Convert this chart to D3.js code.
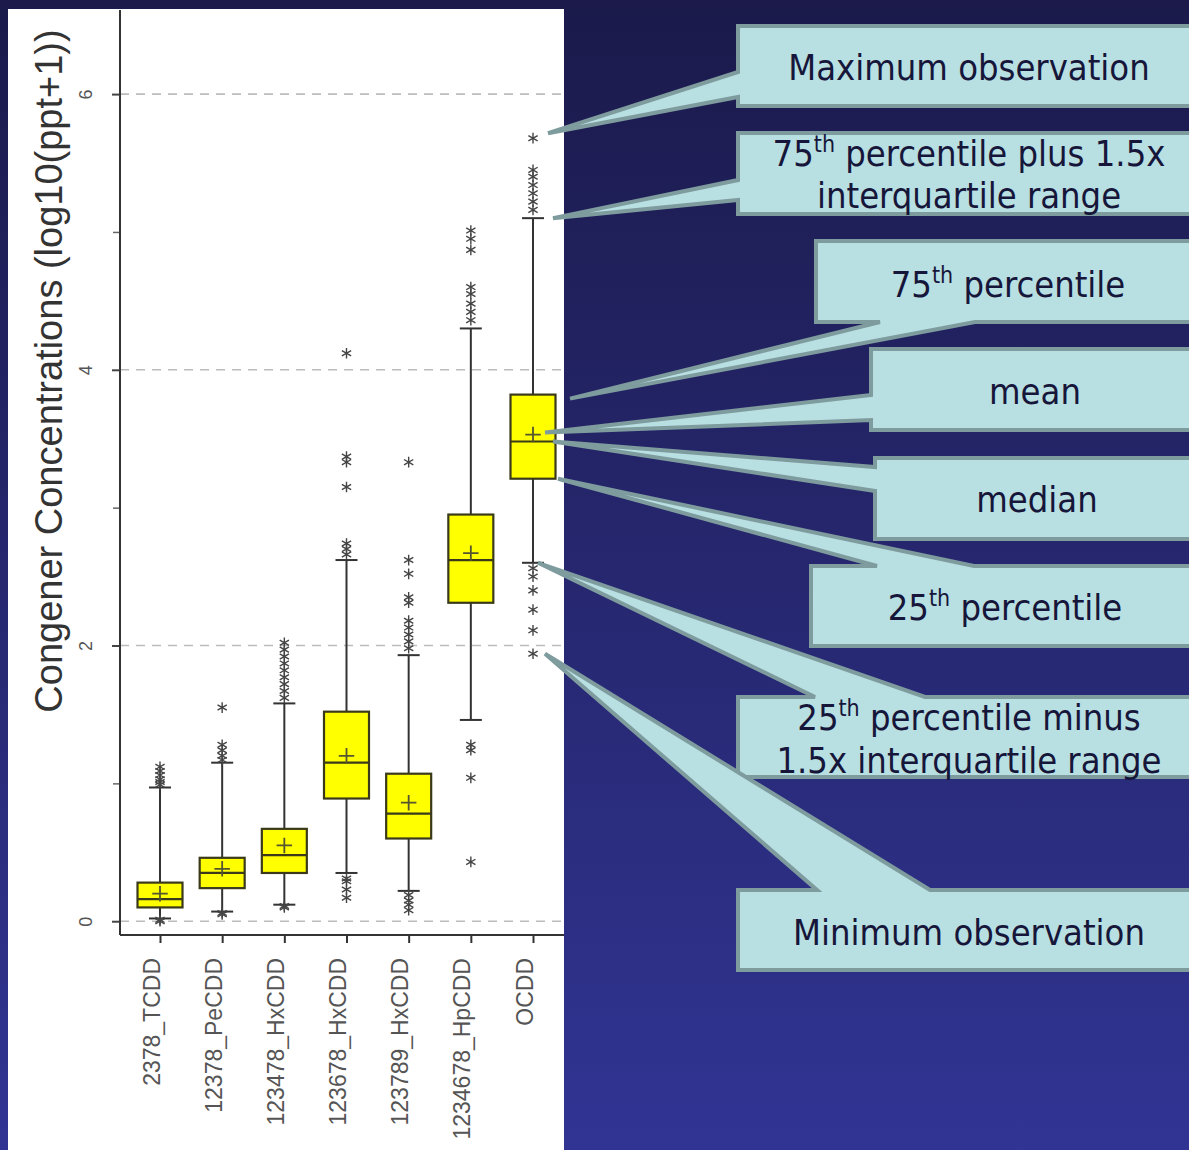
<!DOCTYPE html>
<html><head><meta charset="utf-8">
<script src="https://cdn.jsdelivr.net/npm/d3@7"></script>
<style>body{margin:0;background:#1c1b4f;overflow:hidden} svg{display:block}</style>
</head><body><svg id="c" width="1189" height="1150"></svg>
<script>
// ---------- data ----------
const categories = ["2378_TCDD","12378_PeCDD","123478_HxCDD","123678_HxCDD","123789_HxCDD","1234678_HpCDD","OCDD"];
const q1          = [0.10, 0.24, 0.35, 0.89, 0.60, 2.31, 3.21];
const median      = [0.16, 0.35, 0.48, 1.15, 0.78, 2.62, 3.48];
const q3          = [0.28, 0.46, 0.67, 1.52, 1.07, 2.95, 3.82];
const means       = [0.20, 0.38, 0.55, 1.20, 0.86, 2.67, 3.53];
const whiskerLow  = [0.02, 0.07, 0.12, 0.35, 0.22, 1.46, 2.60];
const whiskerHigh = [0.97, 1.15, 1.58, 2.62, 1.93, 4.30, 5.10];
const outliers = [
  [0.00, 0.01, 0.99, 1.01, 1.03, 1.06, 1.09, 1.12],
  [0.05, 0.06, 1.17, 1.20, 1.24, 1.28, 1.55],
  [0.10, 0.11, 1.62, 1.67, 1.72, 1.77, 1.82, 1.87, 1.92, 1.97, 2.02],
  [0.17, 0.23, 0.29, 0.31, 2.66, 2.70, 2.74, 3.15, 3.33, 3.37, 4.12],
  [0.08, 0.12, 0.15, 0.19, 1.98, 2.03, 2.08, 2.13, 2.18, 2.31, 2.35, 2.52, 2.62, 3.33],
  [0.43, 1.04, 1.24, 1.28, 4.36, 4.42, 4.48, 4.55, 4.60, 4.87, 4.95, 5.01],
  [1.94, 2.11, 2.26, 2.40, 2.50, 2.56, 5.16, 5.22, 5.28, 5.34, 5.40, 5.45, 5.68]
];
const yTicks = [0, 2, 4, 6];
const yMinorTicks = [1, 3, 5];
const yTitle = "Congener Concentrations (log10(ppt+1))";

// ---------- layout ----------
const svg = d3.select("#c");
const W = 1189, H = 1150;
const defs = svg.append("defs");
const grad = defs.append("linearGradient").attr("id","bg").attr("x1",0).attr("y1",0).attr("x2",0).attr("y2",1);
grad.append("stop").attr("offset","0%").attr("stop-color","#1b1a4b");
grad.append("stop").attr("offset","100%").attr("stop-color","#313493");
svg.append("rect").attr("width",W).attr("height",H).attr("fill","url(#bg)");

// white panel
svg.append("rect").attr("x",8).attr("y",9).attr("width",556).attr("height",H-9).attr("fill","#ffffff");

const y = d3.scaleLinear().domain([-0.1, 6.61]).range([935, 10]);
const x = d3.scalePoint().domain(categories).range([160, 533]);
const plotL = 120, plotR = 564, plotB = 935, plotT = 10;

// gridlines
svg.append("g").selectAll("line").data(yTicks).join("line")
  .attr("x1", plotL).attr("x2", plotR - 2)
  .attr("y1", d => y(d)).attr("y2", d => y(d))
  .attr("stroke", "#bcbcbc").attr("stroke-width", 1.6).attr("stroke-dasharray", "9,7");

// y axis
const yAxis = d3.axisLeft(y).tickValues(yTicks).tickSize(8).tickFormat(d3.format("d"));
const gy = svg.append("g").attr("transform", `translate(${plotL},0)`).call(yAxis);
gy.select(".domain").remove();
gy.selectAll(".tick line").attr("stroke","#444").attr("stroke-width",2);
gy.selectAll(".tick text").attr("fill","#555").attr("font-size",18)
  .attr("font-family","Liberation Sans, Arial, sans-serif")
  .attr("text-anchor","middle").attr("x",0).attr("y",0).attr("dy","0.35em")
  .attr("transform","translate(-34,0) rotate(-90)");
svg.append("g").attr("transform", `translate(${plotL},0)`)
  .call(d3.axisLeft(y).tickValues(yMinorTicks).tickSize(7).tickFormat(""))
  .call(g => g.select(".domain").remove())
  .selectAll(".tick line").attr("stroke","#666").attr("stroke-width",1.5);

svg.append("line").attr("x1",plotL).attr("x2",plotL).attr("y1",plotT).attr("y2",plotB)
  .attr("stroke","#333").attr("stroke-width",2);

// x axis
const xAxis = d3.axisBottom(x).tickSize(8).tickFormat(d => d);
const gx = svg.append("g").attr("transform", `translate(0,${plotB})`).call(xAxis);
gx.select(".domain").remove();
gx.selectAll(".tick line").attr("stroke","#333").attr("stroke-width",2);
gx.selectAll(".tick text").attr("fill","#555").attr("font-size",23)
  .attr("font-family","Liberation Sans, Arial, sans-serif")
  .attr("text-anchor","end").attr("y",0).attr("x",0).attr("dy",0)
  .attr("transform","translate(-1,23) rotate(-90)");
svg.append("line").attr("x1",plotL).attr("x2",plotR).attr("y1",plotB).attr("y2",plotB)
  .attr("stroke","#333").attr("stroke-width",2);

// y title
svg.append("text").attr("transform","translate(62,371) rotate(-90)")
  .attr("text-anchor","middle").attr("font-size",38).attr("fill","#333")
  .attr("font-family","Liberation Sans, Arial, sans-serif").text(yTitle);

// boxes
const boxW = 45, capW = 22;
const data = categories.map((c,i) => ({c, q1:q1[i], med:median[i], q3:q3[i], mean:means[i],
  lo:whiskerLow[i], hi:whiskerHigh[i], out:outliers[i]}));
const gb = svg.append("g");
const b = gb.selectAll("g").data(data).join("g");
b.append("line").attr("x1",d=>x(d.c)).attr("x2",d=>x(d.c)).attr("y1",d=>y(d.hi)).attr("y2",d=>y(d.lo))
  .attr("stroke","#333").attr("stroke-width",2);
b.append("line").attr("x1",d=>x(d.c)-capW/2).attr("x2",d=>x(d.c)+capW/2).attr("y1",d=>y(d.hi)).attr("y2",d=>y(d.hi))
  .attr("stroke","#333").attr("stroke-width",2);
b.append("line").attr("x1",d=>x(d.c)-capW/2).attr("x2",d=>x(d.c)+capW/2).attr("y1",d=>y(d.lo)).attr("y2",d=>y(d.lo))
  .attr("stroke","#333").attr("stroke-width",2);
b.append("rect").attr("x",d=>x(d.c)-boxW/2).attr("width",boxW)
  .attr("y",d=>y(d.q3)).attr("height",d=>y(d.q1)-y(d.q3))
  .attr("fill","#ffff00").attr("stroke","#3a3a1a").attr("stroke-width",2.2);
b.append("line").attr("x1",d=>x(d.c)-boxW/2).attr("x2",d=>x(d.c)+boxW/2).attr("y1",d=>y(d.med)).attr("y2",d=>y(d.med))
  .attr("stroke","#3a3a1a").attr("stroke-width",2.2);
const plus = d3.symbol().type(d3.symbolPlus).size(80);
b.append("path").attr("d",plus).attr("transform",d=>`translate(${x(d.c)},${y(d.mean)})`)
  .attr("fill","none").attr("stroke","#555530").attr("stroke-width",1.8);
const star = d3.symbol().type(d3.symbolAsterisk).size(80);
b.each(function(d){
  d3.select(this).selectAll("path.o").data(d.out).join("path").attr("class","o")
    .attr("d",star).attr("transform",v=>`translate(${x(d.c)},${y(v)})`)
    .attr("fill","none").attr("stroke","#444").attr("stroke-width",1.4);
});

// ---------- callouts ----------
const R = 1200;
const ox = x("OCDD");
const callouts = [
  {shape:[[R,26],[738,26],[738,72],[ox+15,y(5.68)-5],[738,97],[738,106],[R,106]],
   lines:[["Maximum observation"]], cx:969, base:[80]},
  {shape:[[R,133],[738,133],[738,180],[ox+20,y(5.10)],[738,200],[738,214],[R,214]],
   lines:[["75","th"," percentile plus 1.5x"],["interquartile range"]], cx:969, base:[166,208]},
  {shape:[[816,241],[R,241],[R,322],[975,322],[ox+37,y(3.82)+4],[880,322],[816,322]],
   lines:[["75","th"," percentile"]], cx:1008, base:[297]},
  {shape:[[R,349],[871,349],[871,395],[ox+12,y(3.53)-2],[871,420],[871,430],[R,430]],
   lines:[["mean"]], cx:1035, base:[404]},
  {shape:[[R,458],[875,458],[875,467],[ox+20,y(3.48)],[875,491],[875,539],[R,539]],
   lines:[["median"]], cx:1037, base:[512]},
  {shape:[[811,566],[877,566],[ox+25,y(3.21)],[974,566],[R,566],[R,646],[811,646]],
   lines:[["25","th"," percentile"]], cx:1005, base:[620]},
  {shape:[[738,697],[815,697],[ox+5,y(2.60)],[925,697],[R,697],[R,777],[738,777]],
   lines:[["25","th"," percentile minus"],["1.5x interquartile range"]], cx:969, base:[730,773]},
  {shape:[[738,890],[817,890],[ox+12,y(1.94)],[930,890],[R,890],[R,970],[738,970]],
   lines:[["Minimum observation"]], cx:969, base:[945]}
];
const gc = svg.append("g");
callouts.forEach(co => {
  gc.append("path").attr("d", d3.line()(co.shape) + "Z")
    .attr("fill","#b8dfe2").attr("stroke","#7e9b9d").attr("stroke-width",4).attr("stroke-linejoin","miter");
});
callouts.forEach(co => {
  co.lines.forEach((parts, li) => {
    const t = gc.append("text").attr("x",co.cx).attr("y",co.base[li]).attr("text-anchor","middle")
      .attr("font-size",36).attr("fill","#16163a")
      .attr("font-family","DejaVu Sans Condensed, DejaVu Sans, sans-serif").attr("font-stretch","condensed");
    if (parts.length === 1) t.text(parts[0]);
    else {
      t.append("tspan").text(parts[0]);
      t.append("tspan").attr("font-size",23).attr("dy",-14).text(parts[1]);
      t.append("tspan").attr("dy",14).text(parts[2]);
    }
  });
});
</script></body></html>
